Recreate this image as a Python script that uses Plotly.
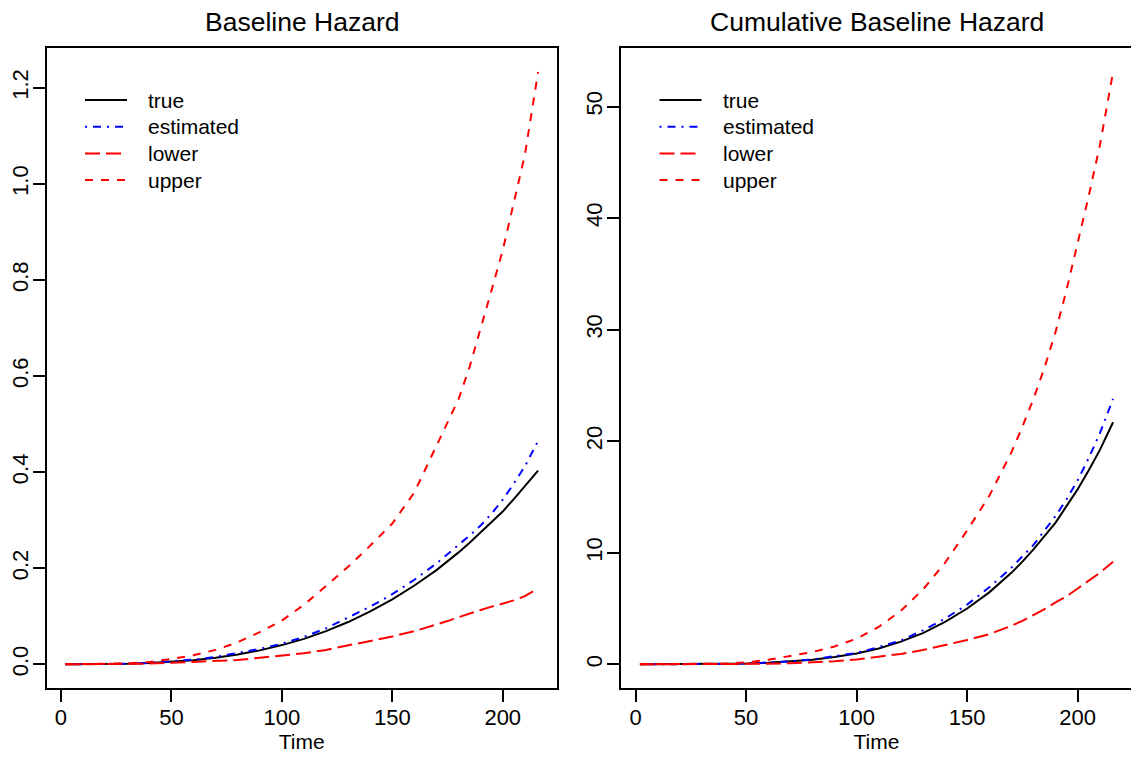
import plotly.graph_objects as go

# ---------------- data ----------------
time = [2, 10, 20, 30, 40, 50, 60, 70, 80, 90, 100, 110, 120, 130, 140,
        150, 160, 170, 175, 180, 185, 190, 195, 200, 205, 210, 216]

# Baseline hazard
haz_true = [0.0, 0.00004, 0.0003, 0.0011, 0.0026, 0.005, 0.0086, 0.0137, 0.0205,
            0.029, 0.040, 0.053, 0.069, 0.088, 0.110, 0.135, 0.164, 0.196, 0.214,
            0.233, 0.253, 0.274, 0.296, 0.318, 0.344, 0.370, 0.403]
haz_est = [0.0, 0.0001, 0.0004, 0.0013, 0.003, 0.0058, 0.0098, 0.0155, 0.023,
           0.032, 0.043, 0.057, 0.075, 0.097, 0.120, 0.146, 0.176, 0.210, 0.229,
           0.249, 0.268, 0.289, 0.314, 0.343, 0.376, 0.412, 0.465]
haz_lower = [0.0, 0.0, 0.0002, 0.0006, 0.0015, 0.003, 0.0045, 0.0065, 0.009,
             0.0135, 0.0175, 0.023, 0.030, 0.039, 0.048, 0.058, 0.069, 0.082, 0.090,
             0.098, 0.106, 0.113, 0.120, 0.127, 0.133, 0.142, 0.158]
haz_upper = [0.0, 0.0002, 0.0007, 0.002, 0.005, 0.011, 0.019, 0.030, 0.046,
             0.067, 0.091, 0.124, 0.163, 0.203, 0.247, 0.293, 0.358, 0.455, 0.503,
             0.552, 0.619, 0.702, 0.780, 0.862, 0.958, 1.060, 1.233]

# Cumulative baseline hazard
cum_true = [0.0, 0.0001, 0.0016, 0.008, 0.026, 0.062, 0.13, 0.24, 0.41, 0.66,
            0.97, 1.42, 2.03, 2.80, 3.80, 5.00, 6.45, 8.20, 9.20, 10.3, 11.5,
            12.7, 14.2, 15.7, 17.4, 19.2, 21.7]
cum_est = [0.0, 0.0001, 0.002, 0.009, 0.03, 0.07, 0.14, 0.26, 0.44, 0.70,
           1.02, 1.55, 2.13, 3.05, 4.10, 5.35, 6.90, 8.65, 9.65, 10.7, 12.0,
           13.3, 14.8, 16.5, 18.5, 20.7, 23.8]
cum_lower = [0.0, 0.0, 0.0005, 0.003, 0.01, 0.025, 0.05, 0.10, 0.17, 0.28,
             0.43, 0.66, 0.93, 1.28, 1.70, 2.18, 2.70, 3.45, 3.90, 4.40, 4.95,
             5.55, 6.10, 6.80, 7.50, 8.20, 9.20]
cum_upper = [0.0, 0.001, 0.005, 0.02, 0.06, 0.17, 0.40, 0.75, 1.10, 1.60,
             2.30, 3.35, 4.80, 6.70, 9.10, 12.0, 15.1, 19.0, 21.3, 23.8, 26.6,
             29.8, 33.6, 37.8, 42.0, 46.5, 53.1]

series_names = ["true", "estimated", "lower", "upper"]
x_ticks = [0, 50, 100, 150, 200]
haz_ticks = [0.0, 0.2, 0.4, 0.6, 0.8, 1.0, 1.2]
cum_ticks = [0, 10, 20, 30, 40, 50]
titles = ["Baseline Hazard", "Cumulative Baseline Hazard"]

# ---------------- styling ----------------
FONT = "Liberation Sans, Arial, Helvetica, sans-serif"
styles = {
    "true": dict(color="black", dash="solid"),
    "estimated": dict(color="#0000FF", dash="2px,6px,8px,6px"),
    "lower": dict(color="#FF0000", dash="15px,6px"),
    "upper": dict(color="#FF0000", dash="8px,8px"),
}

# page is shown with an 8px body margin -> compensate
OFF = 8
W, H = 1139 - OFF, 759 - OFF


def px(xp):
    return (xp - OFF) / W


def py(yp):
    return 1 - (yp - OFF) / H


def r_range(vals):
    lo, hi = min(vals), max(vals)
    d = (hi - lo) * 0.04
    return [lo - d, hi + d]


fig = go.Figure()
panels = [
    ("x", "y", [haz_true, haz_est, haz_lower, haz_upper]),
    ("x2", "y2", [cum_true, cum_est, cum_lower, cum_upper]),
]
for xa, ya, ser in panels:
    for name, vals in zip(series_names, ser):
        st = styles[name]
        fig.add_trace(go.Scatter(
            x=time, y=vals, mode="lines", name=name, showlegend=False,
            xaxis=xa, yaxis=ya,
            line=dict(color=st["color"], dash=st["dash"], width=2),
        ))

ydom = [py(688), py(48.3)]
xdom1 = [px(46.5), px(557)]
xdom2 = [px(621), px(1132)]

TICKSIZE = 22
axis_common = dict(
    showline=True, mirror=True, linecolor="black", linewidth=1.5,
    ticks="outside", ticklen=12, tickwidth=1.5, tickcolor="black",
    showgrid=False, zeroline=False,
    tickfont=dict(family=FONT, size=TICKSIZE, color="black"),
)
xaxis_extra = dict(ticklabelstandoff=-3,
                   title=dict(text="Time", font=dict(family=FONT, size=21),
                              standoff=3))
yaxis_extra = dict(tickangle=-90, ticklabelstandoff=-4)

all_haz = haz_true + haz_est + haz_lower + haz_upper
all_cum = cum_true + cum_est + cum_lower + cum_upper

fig.update_layout(
    width=W, height=H,
    margin=dict(l=0, r=0, t=0, b=0),
    paper_bgcolor="white", plot_bgcolor="white",
    font=dict(family=FONT, size=20, color="black"),
    showlegend=False,
    xaxis=dict(domain=xdom1, range=r_range(time), tickvals=x_ticks,
               anchor="y", **axis_common, **xaxis_extra),
    yaxis=dict(domain=ydom, range=r_range(all_haz), tickvals=haz_ticks,
               tickformat=".1f", anchor="x", **axis_common, **yaxis_extra),
    xaxis2=dict(domain=xdom2, range=r_range(time), tickvals=x_ticks,
                anchor="y2", **axis_common, **xaxis_extra),
    yaxis2=dict(domain=ydom, range=r_range(all_cum), tickvals=cum_ticks,
                anchor="x2", **axis_common, **yaxis_extra),
)

# ---------------- legend boxes (R style, inside each panel) ----------------
LEG_ROW0, LEG_STEP = 100, 26.7
LEG_LINE_LEN, LEG_TEXT_GAP = 42, 19
for box_left in (46.5, 621):
    lx0 = box_left + 38.5
    for i, name in enumerate(series_names):
        st = styles[name]
        yy = LEG_ROW0 + i * LEG_STEP
        fig.add_shape(type="line", xref="paper", yref="paper",
                      x0=px(lx0), x1=px(lx0 + LEG_LINE_LEN),
                      y0=py(yy), y1=py(yy),
                      line=dict(color=st["color"], dash=st["dash"], width=2))
        fig.add_annotation(text=name, xref="paper", yref="paper",
                           x=px(lx0 + LEG_LINE_LEN + LEG_TEXT_GAP), y=py(yy),
                           xanchor="left", yanchor="middle", showarrow=False,
                           font=dict(family=FONT, size=21, color="black"))

centers = [(xdom1[0] + xdom1[1]) / 2, (xdom2[0] + xdom2[1]) / 2]
for c, t in zip(centers, titles):
    fig.add_annotation(text=t, x=c, y=py(22), xref="paper", yref="paper",
                       xanchor="center", yanchor="middle", showarrow=False,
                       font=dict(family=FONT, size=26.5, color="black"))

fig.write_html("out.html")
